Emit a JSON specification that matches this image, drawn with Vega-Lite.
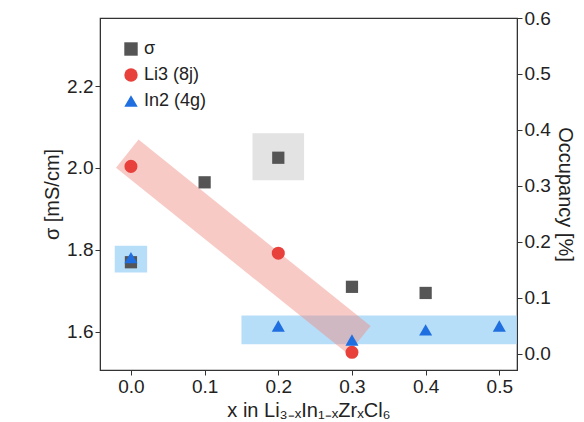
{
  "$schema": "https://vega.github.io/schema/vega-lite/v6.json",
  "autosize": "none",
  "padding": {"left": 100, "top": 18, "right": 67, "bottom": 52},
  "width": 417,
  "height": 352,
  "background": "white",
  "config": {
    "font": "Liberation Sans",
    "view": {"stroke": "#333", "strokeWidth": 1.2},
    "axis": {"grid": false, "labelFontSize": 19, "titleFontSize": 20, "titleFontWeight": "normal", "labelColor": "#222", "titleColor": "#222", "domainColor": "#333", "tickColor": "#333", "labelFont": "Liberation Sans", "titleFont": "Liberation Sans"}
  },
  "datasets": {
    "sigma": [
      {"x": 0.0, "v": 1.77, "series": "σ"},
      {"x": 0.1, "v": 1.965, "series": "σ"},
      {"x": 0.2, "v": 2.025, "series": "σ"},
      {"x": 0.3, "v": 1.71, "series": "σ"},
      {"x": 0.4, "v": 1.695, "series": "σ"}
    ],
    "li3": [
      {"x": 0.0, "v": 0.335, "series": "Li3 (8j)"},
      {"x": 0.2, "v": 0.18, "series": "Li3 (8j)"},
      {"x": 0.3, "v": 0.003, "series": "Li3 (8j)"}
    ],
    "in2": [
      {"x": 0.0, "v": 0.172, "series": "In2 (4g)"},
      {"x": 0.2, "v": 0.05, "series": "In2 (4g)"},
      {"x": 0.3, "v": 0.025, "series": "In2 (4g)"},
      {"x": 0.4, "v": 0.043, "series": "In2 (4g)"},
      {"x": 0.5, "v": 0.05, "series": "In2 (4g)"}
    ],
    "boxes": [
      {"x1": 0.15, "x2": 0.524, "y1": 1.57, "y2": 1.64, "c": "#9fd3f5"},
      {"x1": -0.022, "x2": 0.022, "y1": 1.745, "y2": 1.81, "c": "#9fd3f5"},
      {"x1": 0.165, "x2": 0.235, "y1": 1.97, "y2": 2.085, "c": "#d9d9d9"}
    ],
    "band": [
      {"x": -0.005, "v": 2.035},
      {"x": 0.31, "v": 1.58}
    ]
  },
  "layer": [
    {
      "layer": [
        {
          "data": {"name": "boxes"},
          "mark": {"type": "rect", "opacity": 0.75},
          "encoding": {
            "x": {"field": "x1", "type": "quantitative"},
            "x2": {"field": "x2"},
            "y": {"field": "y1", "type": "quantitative"},
            "y2": {"field": "y2"},
            "fill": {"field": "c", "type": "nominal", "scale": null}
          }
        },
        {
          "data": {"name": "band"},
          "mark": {"type": "line", "strokeWidth": 36, "strokeCap": "butt", "color": "#f08a80", "opacity": 0.45},
          "encoding": {
            "x": {"field": "x", "type": "quantitative"},
            "y": {"field": "v", "type": "quantitative"}
          }
        },
        {
          "data": {"name": "sigma"},
          "mark": {"type": "point", "filled": true, "size": 150, "opacity": 1},
          "encoding": {
            "x": {"field": "x", "type": "quantitative", "scale": {"domain": [-0.042, 0.524], "nice": false}, "axis": {"values": [0, 0.1, 0.2, 0.3, 0.4, 0.5], "format": ".1f", "title": "x in Li₃₋ₓIn₁₋ₓZrₓCl₆"}},
            "y": {"field": "v", "type": "quantitative", "scale": {"domain": [1.507, 2.366], "nice": false, "zero": false}, "axis": {"orient": "left", "values": [1.6, 1.8, 2.0, 2.2], "format": ".1f", "title": "σ [mS/cm]"}},
            "color": {"field": "series", "type": "nominal", "scale": {"domain": ["σ", "Li3 (8j)", "In2 (4g)"], "range": ["#555555", "#e8413c", "#1f6fe0"]}, "legend": {"orient": "top-left", "title": null, "labelFontSize": 18, "symbolSize": 180, "labelColor": "#222", "offset": 22, "rowPadding": 8}},
            "shape": {"field": "series", "type": "nominal", "scale": {"domain": ["σ", "Li3 (8j)", "In2 (4g)"], "range": ["square", "circle", "triangle-up"]}, "legend": {"orient": "top-left", "title": null}}
          }
        }
      ]
    },
    {
      "layer": [
        {
          "data": {"name": "li3"},
          "mark": {"type": "point", "filled": true, "size": 170, "opacity": 1},
          "encoding": {
            "x": {"field": "x", "type": "quantitative"},
            "y": {"field": "v", "type": "quantitative", "scale": {"domain": [-0.0286, 0.6], "nice": false}, "axis": {"orient": "right", "values": [0, 0.1, 0.2, 0.3, 0.4, 0.5, 0.6], "format": ".1f", "title": "Occupancy [%]"}},
            "color": {"field": "series", "type": "nominal"},
            "shape": {"field": "series", "type": "nominal"}
          }
        },
        {
          "data": {"name": "in2"},
          "mark": {"type": "point", "filled": true, "size": 170, "opacity": 1},
          "encoding": {
            "x": {"field": "x", "type": "quantitative"},
            "y": {"field": "v", "type": "quantitative"},
            "color": {"field": "series", "type": "nominal"},
            "shape": {"field": "series", "type": "nominal"}
          }
        }
      ]
    }
  ],
  "resolve": {"scale": {"y": "independent"}}
}
